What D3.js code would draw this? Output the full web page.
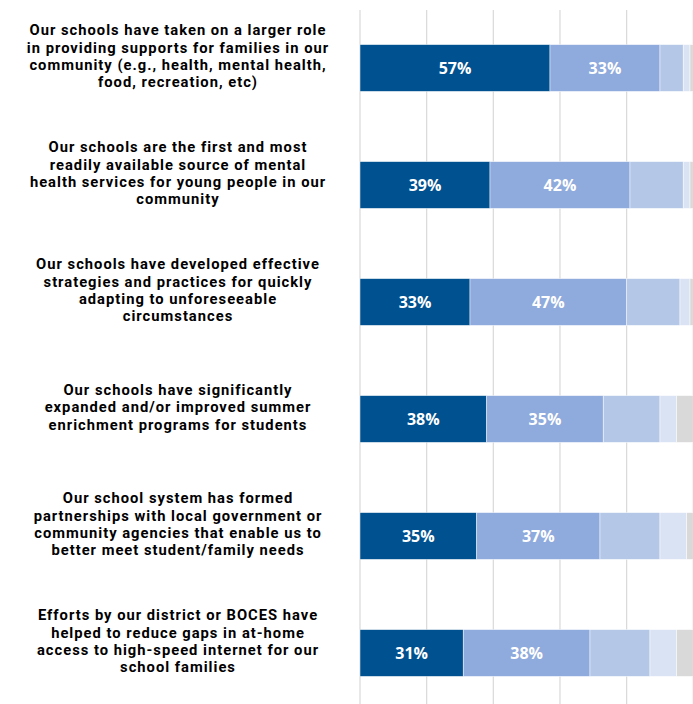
<!DOCTYPE html>
<html>
<head>
<meta charset="utf-8">
<script src="https://cdn.jsdelivr.net/npm/d3@7"></script>
<style>
  body { margin: 0; background: #fff; }
  svg { display: block; }
  text { font-weight: bold; }
  .pct { font-family: "Open Sans", sans-serif; }
  .cat { font-family: Roboto, "Liberation Sans", sans-serif; }
</style>
</head>
<body>
<svg></svg>
<script>
// Statements (each already split into its wrapped lines)
const statements = [
    ["Our schools have taken on a larger role", "in providing supports for families in our", "community (e.g., health, mental health,", "food, recreation, etc)"],
    ["Our schools are the first and most", "readily available source of mental", "health services for young people in our", "community"],
    ["Our schools have developed effective", "strategies and practices for quickly", "adapting to unforeseeable", "circumstances"],
    ["Our schools have significantly", "expanded and/or improved summer", "enrichment programs for students"],
    ["Our school system has formed", "partnerships with local government or", "community agencies that enable us to", "better meet student/family needs"],
    ["Efforts by our district or BOCES have", "helped to reduce gaps in at-home", "access to high-speed internet for our", "school families"]
];

// Response levels, strongest first (percent of respondents)
const levels = ["l1", "l2", "l3", "l4", "l5"];
const level1 = [57, 39, 33, 38, 35, 31];
const level2 = [33, 42, 47, 35, 37, 38];
const level3 = [7, 16, 16, 17, 18, 18];
const level4 = [2, 2, 3, 5, 8, 8];
const level5 = [1, 1, 1, 5, 2, 5];
const colors = ["#00518F", "#8FAADC", "#B4C7E7", "#DAE3F3", "#D9D9D9"];
const labelledLevels = ["l1", "l2"];
const gridTicks = [0, 20, 40, 60, 80, 100];

window.onload = function () {
    const width = 693;
    const height = 704;
    const margin = { top: 10, left: 360 };

    const svg = d3.select("svg")
        .attr("width", width)
        .attr("height", height);

    // tabla para el stack
    const table = statements.map((s, i) => ({
        key: i,
        l1: level1[i], l2: level2[i], l3: level3[i], l4: level4[i], l5: level5[i]
    }));
    const series = d3.stack().keys(levels)(table);

    const x = d3.scaleLinear()
        .domain([0, 100])
        .range([margin.left, margin.left + 333.3]);

    const y = d3.scaleBand()
        .domain(d3.range(statements.length))
        .range([9.5, 711.5])
        .paddingInner(0.6)
        .paddingOuter(0.3);

    const color = d3.scaleOrdinal().domain(levels).range(colors);

    // líneas de la cuadrícula
    svg.append("g")
        .selectAll("line")
        .data(gridTicks)
        .join("line")
        .attr("x1", d => x(d))
        .attr("x2", d => x(d))
        .attr("y1", margin.top)
        .attr("y2", height)
        .attr("stroke", "#D9D9D9")
        .attr("stroke-width", 1.2);

    // barras apiladas
    const groups = svg.append("g")
        .selectAll("g")
        .data(series)
        .join("g")
        .attr("fill", d => color(d.key));

    groups.selectAll("rect")
        .data(d => d)
        .join("rect")
        .attr("x", d => x(d[0]))
        .attr("y", (d, i) => y(i))
        .attr("width", d => x(d[1]) - x(d[0]))
        .attr("height", y.bandwidth())
        .attr("stroke", "#ffffff")
        .attr("stroke-opacity", 0.6)
        .attr("stroke-width", 0.8);

    // etiquetas de porcentaje
    groups.filter(d => labelledLevels.includes(d.key))
        .selectAll("text")
        .data(d => d)
        .join("text")
        .attr("class", "pct")
        .attr("x", d => (x(d[0]) + x(d[1])) / 2)
        .attr("y", (d, i) => y(i) + y.bandwidth() / 2)
        .attr("dy", "0.36em")
        .attr("text-anchor", "middle")
        .attr("fill", "#ffffff")
        .style("font-size", "16px")
        .text(d => (d[1] - d[0]) + "%");

    // medir la línea más larga para ajustar tamaño y espaciado
    const lineHeight = 17.4;
    const longest = "community (e.g., health, mental health,";
    const probe = svg.append("text").attr("class", "cat").style("font-size", "16px").text(longest);
    const fontSize = Math.min(16 * 321 / probe.node().getComputedTextLength(), lineHeight / 1.18);
    probe.style("font-size", fontSize + "px");
    const spacing = Math.max(0, Math.min(1, (321 - probe.node().getComputedTextLength()) / longest.length));
    probe.remove();

    // etiquetas de categoría
    const labels = svg.append("g")
        .selectAll("text")
        .data(statements)
        .join("text")
        .attr("class", "cat")
        .attr("text-anchor", "middle")
        .attr("fill", "#000000")
        .style("font-size", fontSize + "px")
        .style("letter-spacing", spacing + "px")
        .attr("transform", (d, i) => {
            const cy = y(i) + y.bandwidth() / 2 - 12 - (d.length - 1) * lineHeight / 2;
            return `translate(178, ${cy})`;
        });

    labels.selectAll("tspan")
        .data(d => d)
        .join("tspan")
        .attr("x", 0)
        .attr("y", (d, i) => i * lineHeight)
        .attr("dy", "0.36em")
        .text(d => d);
};
</script>
</body>
</html>
